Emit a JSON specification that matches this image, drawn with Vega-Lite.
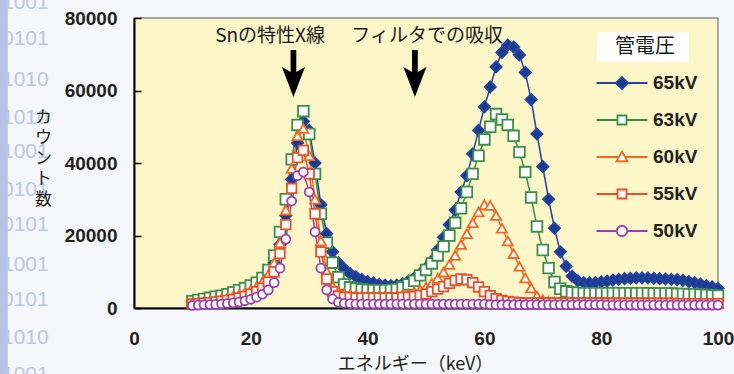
{
  "$schema": "https://vega.github.io/schema/vega-lite/v6.json",
  "width": 584,
  "height": 290,
  "autosize": {"type": "none"},
  "padding": {"left": 134, "top": 18, "right": 16, "bottom": 66},
  "background": "#f6f7fa",
  "config": {
    "view": {"fill": "#fdf6c9", "stroke": "#8f8f8f", "strokeWidth": 1.5},
    "font": "Liberation Sans"
  },
  "datasets": {
    "spectra": [
      {"series":"65kV","keV":10,"count":1500},{"series":"65kV","keV":11,"count":1700},{"series":"65kV","keV":12,"count":1900},{"series":"65kV","keV":13,"count":2100},{"series":"65kV","keV":14,"count":2300},{"series":"65kV","keV":15,"count":2600},{"series":"65kV","keV":16,"count":2900},{"series":"65kV","keV":17,"count":3300},{"series":"65kV","keV":18,"count":3800},{"series":"65kV","keV":19,"count":4400},
      {"series":"65kV","keV":20,"count":5100},{"series":"65kV","keV":21,"count":6000},{"series":"65kV","keV":22,"count":7200},{"series":"65kV","keV":23,"count":9200},{"series":"65kV","keV":24,"count":12500},{"series":"65kV","keV":25,"count":17500},{"series":"65kV","keV":26,"count":25500},{"series":"65kV","keV":27,"count":35500},{"series":"65kV","keV":28,"count":45500},{"series":"65kV","keV":29,"count":51500},
      {"series":"65kV","keV":30,"count":49000},{"series":"65kV","keV":31,"count":40000},{"series":"65kV","keV":32,"count":28500},{"series":"65kV","keV":33,"count":20500},{"series":"65kV","keV":34,"count":15500},{"series":"65kV","keV":35,"count":12500},{"series":"65kV","keV":36,"count":10800},{"series":"65kV","keV":37,"count":9500},{"series":"65kV","keV":38,"count":8600},{"series":"65kV","keV":39,"count":7900},
      {"series":"65kV","keV":40,"count":7300},{"series":"65kV","keV":41,"count":6900},{"series":"65kV","keV":42,"count":6500},{"series":"65kV","keV":43,"count":6300},{"series":"65kV","keV":44,"count":6200},{"series":"65kV","keV":45,"count":6300},{"series":"65kV","keV":46,"count":6700},{"series":"65kV","keV":47,"count":7400},{"series":"65kV","keV":48,"count":8300},{"series":"65kV","keV":49,"count":9500},
      {"series":"65kV","keV":50,"count":11000},{"series":"65kV","keV":51,"count":13000},{"series":"65kV","keV":52,"count":16000},{"series":"65kV","keV":53,"count":19500},{"series":"65kV","keV":54,"count":23000},{"series":"65kV","keV":55,"count":27000},{"series":"65kV","keV":56,"count":32000},{"series":"65kV","keV":57,"count":36500},{"series":"65kV","keV":58,"count":42500},{"series":"65kV","keV":59,"count":49000},
      {"series":"65kV","keV":60,"count":55500},{"series":"65kV","keV":61,"count":61000},{"series":"65kV","keV":62,"count":66500},{"series":"65kV","keV":63,"count":70500},{"series":"65kV","keV":64,"count":72500},{"series":"65kV","keV":65,"count":72000},{"series":"65kV","keV":66,"count":69800},{"series":"65kV","keV":67,"count":65000},{"series":"65kV","keV":68,"count":57500},{"series":"65kV","keV":69,"count":48000},
      {"series":"65kV","keV":70,"count":39000},{"series":"65kV","keV":71,"count":30000},{"series":"65kV","keV":72,"count":22000},{"series":"65kV","keV":73,"count":15500},{"series":"65kV","keV":74,"count":11500},{"series":"65kV","keV":75,"count":8800},{"series":"65kV","keV":76,"count":7500},{"series":"65kV","keV":77,"count":7000},{"series":"65kV","keV":78,"count":6900},{"series":"65kV","keV":79,"count":7000},
      {"series":"65kV","keV":80,"count":7200},{"series":"65kV","keV":81,"count":7400},{"series":"65kV","keV":82,"count":7700},{"series":"65kV","keV":83,"count":7900},{"series":"65kV","keV":84,"count":8100},{"series":"65kV","keV":85,"count":8200},{"series":"65kV","keV":86,"count":8300},{"series":"65kV","keV":87,"count":8300},{"series":"65kV","keV":88,"count":8300},{"series":"65kV","keV":89,"count":8200},
      {"series":"65kV","keV":90,"count":8100},{"series":"65kV","keV":91,"count":8000},{"series":"65kV","keV":92,"count":7900},{"series":"65kV","keV":93,"count":7800},{"series":"65kV","keV":94,"count":7600},{"series":"65kV","keV":95,"count":7300},{"series":"65kV","keV":96,"count":7000},{"series":"65kV","keV":97,"count":6600},{"series":"65kV","keV":98,"count":6200},{"series":"65kV","keV":99,"count":5800},{"series":"65kV","keV":100,"count":5400},

      {"series":"63kV","keV":10,"count":1900},{"series":"63kV","keV":11,"count":2200},{"series":"63kV","keV":12,"count":2500},{"series":"63kV","keV":13,"count":2800},{"series":"63kV","keV":14,"count":3100},{"series":"63kV","keV":15,"count":3400},{"series":"63kV","keV":16,"count":3800},{"series":"63kV","keV":17,"count":4300},{"series":"63kV","keV":18,"count":4900},{"series":"63kV","keV":19,"count":5500},
      {"series":"63kV","keV":20,"count":6200},{"series":"63kV","keV":21,"count":7000},{"series":"63kV","keV":22,"count":8300},{"series":"63kV","keV":23,"count":10500},{"series":"63kV","keV":24,"count":14500},{"series":"63kV","keV":25,"count":21000},{"series":"63kV","keV":26,"count":30000},{"series":"63kV","keV":27,"count":41000},{"series":"63kV","keV":28,"count":50500},{"series":"63kV","keV":29,"count":54300},
      {"series":"63kV","keV":30,"count":48000},{"series":"63kV","keV":31,"count":37000},{"series":"63kV","keV":32,"count":26000},{"series":"63kV","keV":33,"count":18000},{"series":"63kV","keV":34,"count":12500},{"series":"63kV","keV":35,"count":8500},{"series":"63kV","keV":36,"count":6500},{"series":"63kV","keV":37,"count":5700},{"series":"63kV","keV":38,"count":5300},{"series":"63kV","keV":39,"count":5100},
      {"series":"63kV","keV":40,"count":5000},{"series":"63kV","keV":41,"count":4900},{"series":"63kV","keV":42,"count":4900},{"series":"63kV","keV":43,"count":4900},{"series":"63kV","keV":44,"count":5000},{"series":"63kV","keV":45,"count":5200},{"series":"63kV","keV":46,"count":5700},{"series":"63kV","keV":47,"count":6500},{"series":"63kV","keV":48,"count":7500},{"series":"63kV","keV":49,"count":9000},
      {"series":"63kV","keV":50,"count":10500},{"series":"63kV","keV":51,"count":12300},{"series":"63kV","keV":52,"count":14500},{"series":"63kV","keV":53,"count":17000},{"series":"63kV","keV":54,"count":20000},{"series":"63kV","keV":55,"count":23500},{"series":"63kV","keV":56,"count":27500},{"series":"63kV","keV":57,"count":32000},{"series":"63kV","keV":58,"count":37000},{"series":"63kV","keV":59,"count":42000},
      {"series":"63kV","keV":60,"count":46500},{"series":"63kV","keV":61,"count":50000},{"series":"63kV","keV":62,"count":53500},{"series":"63kV","keV":63,"count":52000},{"series":"63kV","keV":64,"count":50500},{"series":"63kV","keV":65,"count":47500},{"series":"63kV","keV":66,"count":43000},{"series":"63kV","keV":67,"count":37500},{"series":"63kV","keV":68,"count":30500},{"series":"63kV","keV":69,"count":22500},
      {"series":"63kV","keV":70,"count":16000},{"series":"63kV","keV":71,"count":11000},{"series":"63kV","keV":72,"count":7200},{"series":"63kV","keV":73,"count":5300},{"series":"63kV","keV":74,"count":4600},{"series":"63kV","keV":75,"count":4300},{"series":"63kV","keV":76,"count":4200},{"series":"63kV","keV":77,"count":4100},{"series":"63kV","keV":78,"count":4100},{"series":"63kV","keV":79,"count":4100},
      {"series":"63kV","keV":80,"count":4100},{"series":"63kV","keV":81,"count":4100},{"series":"63kV","keV":82,"count":4100},{"series":"63kV","keV":83,"count":4100},{"series":"63kV","keV":84,"count":4100},{"series":"63kV","keV":85,"count":4100},{"series":"63kV","keV":86,"count":4100},{"series":"63kV","keV":87,"count":4100},{"series":"63kV","keV":88,"count":4100},{"series":"63kV","keV":89,"count":4000},
      {"series":"63kV","keV":90,"count":4000},{"series":"63kV","keV":91,"count":4000},{"series":"63kV","keV":92,"count":4000},{"series":"63kV","keV":93,"count":3900},{"series":"63kV","keV":94,"count":3900},{"series":"63kV","keV":95,"count":3800},{"series":"63kV","keV":96,"count":3800},{"series":"63kV","keV":97,"count":3700},{"series":"63kV","keV":98,"count":3600},{"series":"63kV","keV":99,"count":3500},{"series":"63kV","keV":100,"count":3400},

      {"series":"60kV","keV":10,"count":1400},{"series":"60kV","keV":11,"count":1600},{"series":"60kV","keV":12,"count":1800},{"series":"60kV","keV":13,"count":2000},{"series":"60kV","keV":14,"count":2200},{"series":"60kV","keV":15,"count":2500},{"series":"60kV","keV":16,"count":2800},{"series":"60kV","keV":17,"count":3200},{"series":"60kV","keV":18,"count":3700},{"series":"60kV","keV":19,"count":4300},
      {"series":"60kV","keV":20,"count":5000},{"series":"60kV","keV":21,"count":5900},{"series":"60kV","keV":22,"count":7200},{"series":"60kV","keV":23,"count":9200},{"series":"60kV","keV":24,"count":12500},{"series":"60kV","keV":25,"count":18000},{"series":"60kV","keV":26,"count":27000},{"series":"60kV","keV":27,"count":38500},{"series":"60kV","keV":28,"count":47500},{"series":"60kV","keV":29,"count":49500},
      {"series":"60kV","keV":30,"count":42000},{"series":"60kV","keV":31,"count":30000},{"series":"60kV","keV":32,"count":18500},{"series":"60kV","keV":33,"count":10000},{"series":"60kV","keV":34,"count":6000},{"series":"60kV","keV":35,"count":4500},{"series":"60kV","keV":36,"count":4000},{"series":"60kV","keV":37,"count":3700},{"series":"60kV","keV":38,"count":3500},{"series":"60kV","keV":39,"count":3400},
      {"series":"60kV","keV":40,"count":3300},{"series":"60kV","keV":41,"count":3300},{"series":"60kV","keV":42,"count":3300},{"series":"60kV","keV":43,"count":3300},{"series":"60kV","keV":44,"count":3300},{"series":"60kV","keV":45,"count":3400},{"series":"60kV","keV":46,"count":3600},{"series":"60kV","keV":47,"count":3900},{"series":"60kV","keV":48,"count":4400},{"series":"60kV","keV":49,"count":5000},
      {"series":"60kV","keV":50,"count":5800},{"series":"60kV","keV":51,"count":6800},{"series":"60kV","keV":52,"count":8200},{"series":"60kV","keV":53,"count":9900},{"series":"60kV","keV":54,"count":12000},{"series":"60kV","keV":55,"count":14500},{"series":"60kV","keV":56,"count":17500},{"series":"60kV","keV":57,"count":20500},{"series":"60kV","keV":58,"count":23500},{"series":"60kV","keV":59,"count":26500},
      {"series":"60kV","keV":60,"count":28500},{"series":"60kV","keV":61,"count":28300},{"series":"60kV","keV":62,"count":25500},{"series":"60kV","keV":63,"count":22000},{"series":"60kV","keV":64,"count":18500},{"series":"60kV","keV":65,"count":15000},{"series":"60kV","keV":66,"count":11500},{"series":"60kV","keV":67,"count":8300},{"series":"60kV","keV":68,"count":5500},{"series":"60kV","keV":69,"count":3300},
      {"series":"60kV","keV":70,"count":2300},{"series":"60kV","keV":71,"count":1900},{"series":"60kV","keV":72,"count":1700},{"series":"60kV","keV":73,"count":1600},{"series":"60kV","keV":74,"count":1500},{"series":"60kV","keV":75,"count":1500},{"series":"60kV","keV":76,"count":1500},{"series":"60kV","keV":77,"count":1500},{"series":"60kV","keV":78,"count":1500},{"series":"60kV","keV":79,"count":1500},
      {"series":"60kV","keV":80,"count":1500},{"series":"60kV","keV":81,"count":1500},{"series":"60kV","keV":82,"count":1500},{"series":"60kV","keV":83,"count":1500},{"series":"60kV","keV":84,"count":1500},{"series":"60kV","keV":85,"count":1500},{"series":"60kV","keV":86,"count":1400},{"series":"60kV","keV":87,"count":1400},{"series":"60kV","keV":88,"count":1400},{"series":"60kV","keV":89,"count":1400},
      {"series":"60kV","keV":90,"count":1400},{"series":"60kV","keV":91,"count":1400},{"series":"60kV","keV":92,"count":1400},{"series":"60kV","keV":93,"count":1400},{"series":"60kV","keV":94,"count":1400},{"series":"60kV","keV":95,"count":1400},{"series":"60kV","keV":96,"count":1300},{"series":"60kV","keV":97,"count":1300},{"series":"60kV","keV":98,"count":1300},{"series":"60kV","keV":99,"count":1300},{"series":"60kV","keV":100,"count":1300},

      {"series":"55kV","keV":10,"count":1100},{"series":"55kV","keV":11,"count":1200},{"series":"55kV","keV":12,"count":1400},{"series":"55kV","keV":13,"count":1500},{"series":"55kV","keV":14,"count":1700},{"series":"55kV","keV":15,"count":1900},{"series":"55kV","keV":16,"count":2100},{"series":"55kV","keV":17,"count":2400},{"series":"55kV","keV":18,"count":2800},{"series":"55kV","keV":19,"count":3200},
      {"series":"55kV","keV":20,"count":3800},{"series":"55kV","keV":21,"count":4500},{"series":"55kV","keV":22,"count":5500},{"series":"55kV","keV":23,"count":7200},{"series":"55kV","keV":24,"count":10000},{"series":"55kV","keV":25,"count":15000},{"series":"55kV","keV":26,"count":23000},{"series":"55kV","keV":27,"count":33000},{"series":"55kV","keV":28,"count":41500},{"series":"55kV","keV":29,"count":43500},
      {"series":"55kV","keV":30,"count":37000},{"series":"55kV","keV":31,"count":26000},{"series":"55kV","keV":32,"count":15500},{"series":"55kV","keV":33,"count":8000},{"series":"55kV","keV":34,"count":4500},{"series":"55kV","keV":35,"count":3300},{"series":"55kV","keV":36,"count":3000},{"series":"55kV","keV":37,"count":2900},{"series":"55kV","keV":38,"count":2800},{"series":"55kV","keV":39,"count":2800},
      {"series":"55kV","keV":40,"count":2800},{"series":"55kV","keV":41,"count":2800},{"series":"55kV","keV":42,"count":2800},{"series":"55kV","keV":43,"count":2800},{"series":"55kV","keV":44,"count":2800},{"series":"55kV","keV":45,"count":2800},{"series":"55kV","keV":46,"count":2900},{"series":"55kV","keV":47,"count":3000},{"series":"55kV","keV":48,"count":3200},{"series":"55kV","keV":49,"count":3500},
      {"series":"55kV","keV":50,"count":3900},{"series":"55kV","keV":51,"count":4500},{"series":"55kV","keV":52,"count":5200},{"series":"55kV","keV":53,"count":5900},{"series":"55kV","keV":54,"count":6800},{"series":"55kV","keV":55,"count":7600},{"series":"55kV","keV":56,"count":8000},{"series":"55kV","keV":57,"count":7800},{"series":"55kV","keV":58,"count":7000},{"series":"55kV","keV":59,"count":5800},
      {"series":"55kV","keV":60,"count":4500},{"series":"55kV","keV":61,"count":3400},{"series":"55kV","keV":62,"count":2600},{"series":"55kV","keV":63,"count":2100},{"series":"55kV","keV":64,"count":1800},{"series":"55kV","keV":65,"count":1600},{"series":"55kV","keV":66,"count":1500},{"series":"55kV","keV":67,"count":1400},{"series":"55kV","keV":68,"count":1400},{"series":"55kV","keV":69,"count":1400},
      {"series":"55kV","keV":70,"count":1400},{"series":"55kV","keV":71,"count":1400},{"series":"55kV","keV":72,"count":1400},{"series":"55kV","keV":73,"count":1400},{"series":"55kV","keV":74,"count":1400},{"series":"55kV","keV":75,"count":1400},{"series":"55kV","keV":76,"count":1400},{"series":"55kV","keV":77,"count":1400},{"series":"55kV","keV":78,"count":1400},{"series":"55kV","keV":79,"count":1400},
      {"series":"55kV","keV":80,"count":1400},{"series":"55kV","keV":81,"count":1300},{"series":"55kV","keV":82,"count":1300},{"series":"55kV","keV":83,"count":1300},{"series":"55kV","keV":84,"count":1300},{"series":"55kV","keV":85,"count":1300},{"series":"55kV","keV":86,"count":1300},{"series":"55kV","keV":87,"count":1300},{"series":"55kV","keV":88,"count":1300},{"series":"55kV","keV":89,"count":1300},
      {"series":"55kV","keV":90,"count":1300},{"series":"55kV","keV":91,"count":1300},{"series":"55kV","keV":92,"count":1300},{"series":"55kV","keV":93,"count":1200},{"series":"55kV","keV":94,"count":1200},{"series":"55kV","keV":95,"count":1200},{"series":"55kV","keV":96,"count":1200},{"series":"55kV","keV":97,"count":1200},{"series":"55kV","keV":98,"count":1200},{"series":"55kV","keV":99,"count":1200},{"series":"55kV","keV":100,"count":1200},

      {"series":"50kV","keV":10,"count":700},{"series":"50kV","keV":11,"count":800},{"series":"50kV","keV":12,"count":900},{"series":"50kV","keV":13,"count":950},{"series":"50kV","keV":14,"count":1000},{"series":"50kV","keV":15,"count":1100},{"series":"50kV","keV":16,"count":1250},{"series":"50kV","keV":17,"count":1400},{"series":"50kV","keV":18,"count":1650},{"series":"50kV","keV":19,"count":2000},
      {"series":"50kV","keV":20,"count":2400},{"series":"50kV","keV":21,"count":3000},{"series":"50kV","keV":22,"count":3800},{"series":"50kV","keV":23,"count":5000},{"series":"50kV","keV":24,"count":7000},{"series":"50kV","keV":25,"count":11000},{"series":"50kV","keV":26,"count":19000},{"series":"50kV","keV":27,"count":29500},{"series":"50kV","keV":28,"count":36500},{"series":"50kV","keV":29,"count":37500},
      {"series":"50kV","keV":30,"count":32000},{"series":"50kV","keV":31,"count":21000},{"series":"50kV","keV":32,"count":11000},{"series":"50kV","keV":33,"count":5000},{"series":"50kV","keV":34,"count":2500},{"series":"50kV","keV":35,"count":1600},{"series":"50kV","keV":36,"count":1300},{"series":"50kV","keV":37,"count":1200},{"series":"50kV","keV":38,"count":1100},{"series":"50kV","keV":39,"count":1100},
      {"series":"50kV","keV":40,"count":1100},{"series":"50kV","keV":41,"count":1100},{"series":"50kV","keV":42,"count":1100},{"series":"50kV","keV":43,"count":1100},{"series":"50kV","keV":44,"count":1100},{"series":"50kV","keV":45,"count":1100},{"series":"50kV","keV":46,"count":1100},{"series":"50kV","keV":47,"count":1100},{"series":"50kV","keV":48,"count":1100},{"series":"50kV","keV":49,"count":1100},
      {"series":"50kV","keV":50,"count":1100},{"series":"50kV","keV":51,"count":1100},{"series":"50kV","keV":52,"count":1100},{"series":"50kV","keV":53,"count":1100},{"series":"50kV","keV":54,"count":1100},{"series":"50kV","keV":55,"count":1100},{"series":"50kV","keV":56,"count":1100},{"series":"50kV","keV":57,"count":1100},{"series":"50kV","keV":58,"count":1100},{"series":"50kV","keV":59,"count":1100},
      {"series":"50kV","keV":60,"count":1100},{"series":"50kV","keV":61,"count":900},{"series":"50kV","keV":62,"count":900},{"series":"50kV","keV":63,"count":900},{"series":"50kV","keV":64,"count":900},{"series":"50kV","keV":65,"count":900},{"series":"50kV","keV":66,"count":900},{"series":"50kV","keV":67,"count":900},{"series":"50kV","keV":68,"count":900},{"series":"50kV","keV":69,"count":900},
      {"series":"50kV","keV":70,"count":900},{"series":"50kV","keV":71,"count":900},{"series":"50kV","keV":72,"count":900},{"series":"50kV","keV":73,"count":900},{"series":"50kV","keV":74,"count":900},{"series":"50kV","keV":75,"count":900},{"series":"50kV","keV":76,"count":900},{"series":"50kV","keV":77,"count":900},{"series":"50kV","keV":78,"count":900},{"series":"50kV","keV":79,"count":900},
      {"series":"50kV","keV":80,"count":900},{"series":"50kV","keV":81,"count":800},{"series":"50kV","keV":82,"count":800},{"series":"50kV","keV":83,"count":800},{"series":"50kV","keV":84,"count":800},{"series":"50kV","keV":85,"count":800},{"series":"50kV","keV":86,"count":800},{"series":"50kV","keV":87,"count":800},{"series":"50kV","keV":88,"count":800},{"series":"50kV","keV":89,"count":800},
      {"series":"50kV","keV":90,"count":800},{"series":"50kV","keV":91,"count":800},{"series":"50kV","keV":92,"count":800},{"series":"50kV","keV":93,"count":800},{"series":"50kV","keV":94,"count":800},{"series":"50kV","keV":95,"count":800},{"series":"50kV","keV":96,"count":800},{"series":"50kV","keV":97,"count":800},{"series":"50kV","keV":98,"count":800},{"series":"50kV","keV":99,"count":800},{"series":"50kV","keV":100,"count":800}
    ],
    "notes": [
      {"label": "Snの特性X線", "keV": 23.3, "count": 74900, "size": 19},
      {"label": "フィルタでの吸収", "keV": 50.2, "count": 74900, "size": 19},
      {"label": "管電圧", "keV": 87.5, "count": 72000, "size": 20}
    ],
    "arrows": [
      {"target": "Sn", "keV": 27.3, "count": 64700},
      {"target": "filter", "keV": 48.1, "count": 64700}
    ],
    "binary": [
      {"bits": "1001", "count": 84100},
      {"bits": "0101", "count": 74100},
      {"bits": "1010", "count": 63000},
      {"bits": "1010", "count": 52500},
      {"bits": "1001", "count": 42900},
      {"bits": "0101", "count": 32500},
      {"bits": "0101", "count": 22800},
      {"bits": "1001", "count": 12000},
      {"bits": "0101", "count": 2100},
      {"bits": "1010", "count": -8300},
      {"bits": "1001", "count": -18500}
    ]
  },
  "resolve": {"scale": {"shape": "independent", "fill": "independent", "stroke": "independent", "size": "independent"}},
  "layer": [
    {
      "data": {"name": "binary"},
      "mark": {"type": "text", "font": "Liberation Sans", "fontSize": 21, "align": "left", "baseline": "middle", "color": "#b9c8e8"},
      "encoding": {
        "x": {"datum": -22.6, "type": "quantitative"},
        "y": {"field": "count", "type": "quantitative"},
        "text": {"field": "bits"}
      }
    },
    {
      "data": {"values": [{}]},
      "mark": {"type": "rect", "fill": "#b4c4e4"},
      "encoding": {
        "x": {"datum": -23, "type": "quantitative"},
        "x2": {"datum": -21.6},
        "y": {"datum": 85000, "type": "quantitative"},
        "y2": {"datum": -18400}
      }
    },
    {
      "data": {"values": [{}]},
      "mark": {"type": "rect", "fill": "#ffffff"},
      "encoding": {
        "x": {"datum": 79.3, "type": "quantitative"},
        "x2": {"datum": 95},
        "y": {"datum": 76100, "type": "quantitative"},
        "y2": {"datum": 67900}
      }
    },
    {
      "data": {"name": "spectra"},
      "mark": {"type": "line", "strokeWidth": 1.5},
      "encoding": {
        "x": {
          "field": "keV", "type": "quantitative",
          "scale": {"domain": [0, 100], "nice": false, "zero": false},
          "axis": {
            "values": [0, 20, 40, 60, 80, 100],
            "labelFlush": false,
            "ticks": false,
            "grid": false,
            "labelPadding": 21,
            "labelFont": "Liberation Sans",
            "labelFontSize": 19,
            "labelFontWeight": "bold",
            "labelColor": "#231f20",
            "domainColor": "#000000",
            "domainWidth": 2,
            "title": "エネルギー（keV）",
            "titleFont": "Noto Sans CJK JP",
            "titleFontSize": 18,
            "titleFontWeight": "normal",
            "titleColor": "#231f20",
            "titleX": 281,
            "titleY": 56,
            "titleAlign": "center",
            "titleBaseline": "middle"
          }
        },
        "y": {
          "field": "count", "type": "quantitative",
          "scale": {"domain": [0, 80000], "nice": false},
          "axis": {
            "zindex": 1,
            "values": [0, 20000, 40000, 60000, 80000],
            "format": "d",
            "grid": false,
            "tickSize": -7,
            "tickColor": "#000000",
            "tickWidth": 1.5,
            "labelPadding": 24,
            "labelFont": "Liberation Sans",
            "labelFontSize": 19,
            "labelFontWeight": "bold",
            "labelColor": "#231f20",
            "domainColor": "#000000",
            "domainWidth": 2,
            "title": ["カ", "ウ", "ン", "ト", "数"],
            "titleAngle": 0,
            "titleFont": "Noto Sans CJK JP",
            "titleFontSize": 17,
            "titleFontWeight": "normal",
            "titleColor": "#231f20",
            "titleLineHeight": 20.5,
            "titleAlign": "center",
            "titleBaseline": "top",
            "titleX": -91,
            "titleY": 91
          }
        },
        "stroke": {
          "field": "series", "type": "nominal",
          "scale": {"domain": ["65kV", "63kV", "60kV", "55kV", "50kV"], "range": ["#24449e", "#3e8e4a", "#f26a21", "#e4512b", "#9b3fae"]},
          "legend": null
        }
      }
    },
    {
      "data": {"name": "spectra"},
      "mark": {"type": "point", "filled": true, "strokeWidth": 1.8, "opacity": 1},
      "encoding": {
        "x": {"field": "keV", "type": "quantitative"},
        "y": {"field": "count", "type": "quantitative"},
        "shape": {
          "field": "series", "type": "nominal",
          "scale": {"domain": ["65kV", "63kV", "60kV", "55kV", "50kV"], "range": ["diamond", "square", "triangle-up", "square", "circle"]},
          "legend": null
        },
        "size": {
          "field": "series", "type": "nominal",
          "scale": {"domain": ["65kV", "63kV", "60kV", "55kV", "50kV"], "range": [125, 80, 110, 80, 115]},
          "legend": null
        },
        "fill": {
          "field": "series", "type": "nominal",
          "scale": {"domain": ["65kV", "63kV", "60kV", "55kV", "50kV"], "range": ["#1b3a93", "#ffffff", "#ffffff", "#ffffff", "#ffffff"]},
          "legend": null
        },
        "stroke": {
          "field": "series", "type": "nominal",
          "scale": {"domain": ["65kV", "63kV", "60kV", "55kV", "50kV"], "range": ["#24449e", "#3e8e4a", "#f26a21", "#e4512b", "#9b3fae"]},
          "legend": null
        }
      }
    },
    {
      "data": {"name": "spectra"},
      "transform": [{"filter": "datum.keV == 10"}],
      "mark": {"type": "point", "filled": true, "strokeWidth": 1.8, "opacity": 0},
      "encoding": {
        "x": {"field": "keV", "type": "quantitative"},
        "y": {"field": "count", "type": "quantitative"},
        "shape": {
          "field": "series", "type": "nominal",
          "scale": {"domain": ["65kV", "63kV", "60kV", "55kV", "50kV"], "range": [
            "M-5.1,0H-1.2L0,-1.2L1.2,0L0,1.2L-1.2,0M1.2,0H5.1",
            "M-5.1,0H-0.9M-0.9,-0.9H0.9V0.9H-0.9ZM0.9,0H5.1",
            "M-5.1,0H-0.62M0,-1.1L1.1,0.85H-1.1ZM0.62,0H5.1",
            "M-5.1,0H-0.9M-0.9,-0.9H0.9V0.9H-0.9ZM0.9,0H5.1",
            "M-5.1,0H-1.05M-1.05,0A1.05,1.05,0,1,1,1.05,0A1.05,1.05,0,1,1,-1.05,0ZM1.05,0H5.1"
          ]},
          "legend": {
            "title": null,
            "orient": "none",
            "legendX": 478.5,
            "legendY": 55.5,
            "padding": 0,
            "rowPadding": 17,
            "symbolSize": 100,
            "symbolStrokeWidth": 1.8,
            "symbolOpacity": 1,
            "labelOffset": 21.5,
            "labelFont": "Liberation Sans",
            "labelFontSize": 19,
            "labelFontWeight": "bold",
            "labelColor": "#231f20"
          }
        },
        "fill": {
          "field": "series", "type": "nominal",
          "scale": {"domain": ["65kV", "63kV", "60kV", "55kV", "50kV"], "range": ["#1b3a93", "#ffffff", "#ffffff", "#ffffff", "#ffffff"]},
          "legend": {
            "title": null,
            "orient": "none",
            "legendX": 478.5,
            "legendY": 55.5,
            "padding": 0,
            "rowPadding": 17,
            "symbolSize": 100,
            "symbolStrokeWidth": 1.8,
            "symbolOpacity": 1,
            "labelOffset": 21.5,
            "labelFont": "Liberation Sans",
            "labelFontSize": 19,
            "labelFontWeight": "bold",
            "labelColor": "#231f20"
          }
        },
        "stroke": {
          "field": "series", "type": "nominal",
          "scale": {"domain": ["65kV", "63kV", "60kV", "55kV", "50kV"], "range": ["#24449e", "#3e8e4a", "#f26a21", "#e4512b", "#9b3fae"]},
          "legend": {
            "title": null,
            "orient": "none",
            "legendX": 478.5,
            "legendY": 55.5,
            "padding": 0,
            "rowPadding": 17,
            "symbolSize": 100,
            "symbolStrokeWidth": 1.8,
            "symbolOpacity": 1,
            "labelOffset": 21.5,
            "labelFont": "Liberation Sans",
            "labelFontSize": 19,
            "labelFontWeight": "bold",
            "labelColor": "#231f20"
          }
        }
      }
    },
    {
      "data": {"name": "notes"},
      "mark": {"type": "text", "font": "Noto Sans CJK JP", "align": "center", "baseline": "middle", "color": "#1a1a1a"},
      "encoding": {
        "x": {"field": "keV", "type": "quantitative"},
        "y": {"field": "count", "type": "quantitative"},
        "text": {"field": "label"},
        "size": {"field": "size", "type": "quantitative", "scale": null}
      }
    },
    {
      "data": {"name": "arrows"},
      "mark": {"type": "point", "filled": true, "fill": "#000000", "strokeWidth": 0, "opacity": 1, "size": 484, "shape": "M-0.26,-2.14L0.26,-2.14L0.26,-0.14L1.05,-0.59L0,2.14L-1.05,-0.59L-0.26,-0.14Z"},
      "encoding": {
        "x": {"field": "keV", "type": "quantitative"},
        "y": {"field": "count", "type": "quantitative"}
      }
    }
  ]
}
